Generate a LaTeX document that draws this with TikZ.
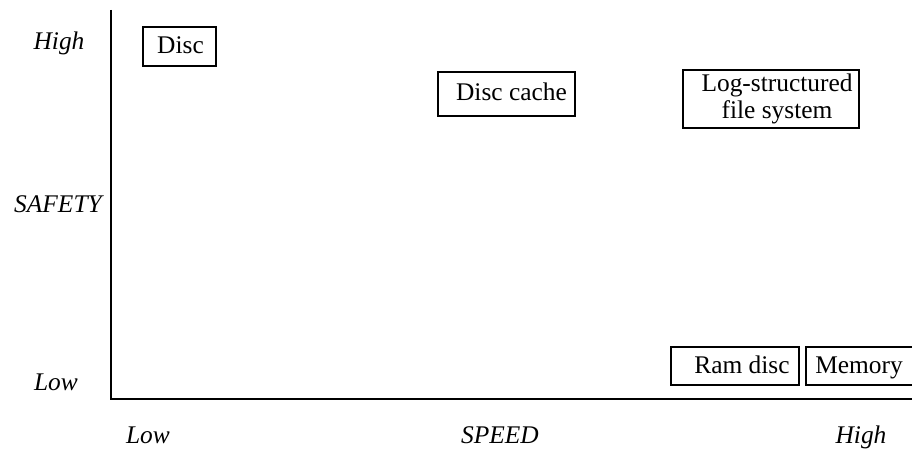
\documentclass[tikz,border=0pt]{standalone}
\usepackage{fontspec}
\setmainfont{Liberation Serif}
\begin{document}
\begin{tikzpicture}[x=1bp,y=-1bp,
  every node/.style={font=\fontsize{25.5}{27}\selectfont},
  axislabel/.style={font=\fontsize{25.5}{27}\selectfont\itshape, anchor=base, inner sep=0},
  item/.style={draw, line width=2bp, rectangle, inner sep=0, align=center},
  oneline/.style={item, text height=20bp, text depth=6bp},
  axis/.style={line width=2bp}]
\useasboundingbox (0,0) rectangle (912,449);

% axes
\coordinate (top) at (111,10);
\coordinate (origin) at (111,399);
\coordinate (right) at (913,399);
\draw[axis] (top) -- (origin) -- (right);

% safety scale
\node[axislabel] (shigh) at (59,50) {High};
\node[axislabel] (safety) at (58,213) {SAFETY};
\node[axislabel] (slow) at (56,390) {Low};

% speed scale
\node[axislabel] (plow) at (148,443) {Low};
\node[axislabel] (speed) at (500,443) {SPEED};
\node[axislabel] (phigh) at (861,443) {High};

% storage options
\node[oneline, minimum width=73bp, minimum height=39bp] (disc) at (179.5,46.5) {\hspace*{2bp}Disc};
\node[oneline, minimum width=137bp, minimum height=44bp] (cache) at (506.5,94) {\hspace*{10bp}Disc cache};
\node[item, minimum width=176bp, minimum height=58bp, font=\fontsize{25.5}{26.5}\selectfont] (lfs) at (771,99) {\hspace*{12bp}Log-structured\\\hspace*{12bp}file system};
\node[oneline, minimum width=128bp, minimum height=38bp] (ram) at (735,366) {\hspace*{14bp}Ram disc};
\node[oneline, minimum width=108bp, minimum height=38bp] (mem) at (860,366) {Memory\hspace*{2bp}};
\end{tikzpicture}
\end{document}
